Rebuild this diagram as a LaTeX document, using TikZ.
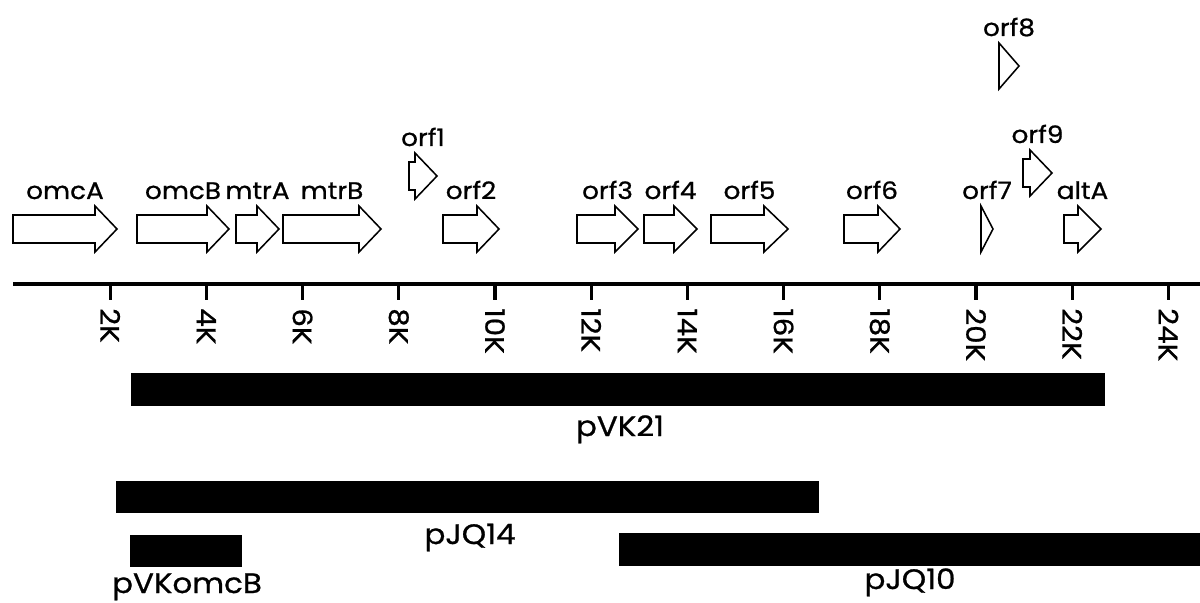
\documentclass[tikz,border=0pt]{standalone}
\usepackage{fontspec}
\setmainfont[FakeStretch=1.1,FakeBold=0.8]{Poppins}
\usetikzlibrary{positioning}

\begin{document}
\begin{tikzpicture}[x=0.025cm,y=-0.025cm,
  orf/.style={draw,line width=1.1pt,fill=white,line join=miter},
  orflabel/.style={anchor=base,inner sep=0pt,font=\fontsize{17}{19}\selectfont},
  tick/.style={line width=2.2pt},
  ticklabel/.style={rotate=-90,anchor=west,inner sep=0pt,font=\fontsize{19}{21}\selectfont},
  clone/.style={fill=black},
  clonelabel/.style={anchor=base,inner sep=0pt,font=\fontsize{20}{22}\selectfont}]
\useasboundingbox (0,0) rectangle (1200,603);
% genes: tail / head base / tip / centre y / name
\foreach \t/\b/\p/\y/\n in {13/95/117/229/omcA, 137/207/229/229/omcB, 236/257/279/229/mtrA,
  283/359/381/229/mtrB, 409/415/437/176/orf1, 443/477/499/229/orf2, 577/615/638/229/orf3,
  644/674/697/229/orf4, 711/764/788/229/orf5, 844/878/900/229/orf6, 981/981/993/229/orf7,
  999/999/1019/66/orf8, 1023/1030/1052/173/orf9, 1064/1078/1101/229/altA}{
  \draw[orf] (\t,\y-14) -- (\b,\y-14) -- (\b,\y-23) -- (\p,\y) -- (\b,\y+23) -- (\b,\y+14) -- (\t,\y+14) -- cycle;
  \node[orflabel] (\n) at ({(\t+\p)/2},\y-30) {\n};
}
% scale
\coordinate (axisL) at (13,284);
\coordinate (axisR) at (1200,284);
\draw[line width=3.5pt] (axisL) -- (axisR);
\foreach \k in {2,4,...,24}{
  \draw[tick] ({14+48.1*\k},284) -- ++(0,16);
  \node[ticklabel] (k\k) at ({14+48.1*\k},308) {\k K};
}
% clones
\fill[clone] (131,373) rectangle (1105,406);
\node[clonelabel] (pVK21) at (620,436) {pVK21};
\fill[clone] (116,481) rectangle (819,513);
\node[clonelabel] (pJQ14) at (470,544) {pJQ14};
\fill[clone] (130,535) rectangle (242,567);
\node[clonelabel] (pVKomcB) at (187,593) {pVKomcB};
\fill[clone] (619,533) rectangle (1200,566);
\node[clonelabel] (pJQ10) at (910,589) {pJQ10};
\end{tikzpicture}
\end{document}
